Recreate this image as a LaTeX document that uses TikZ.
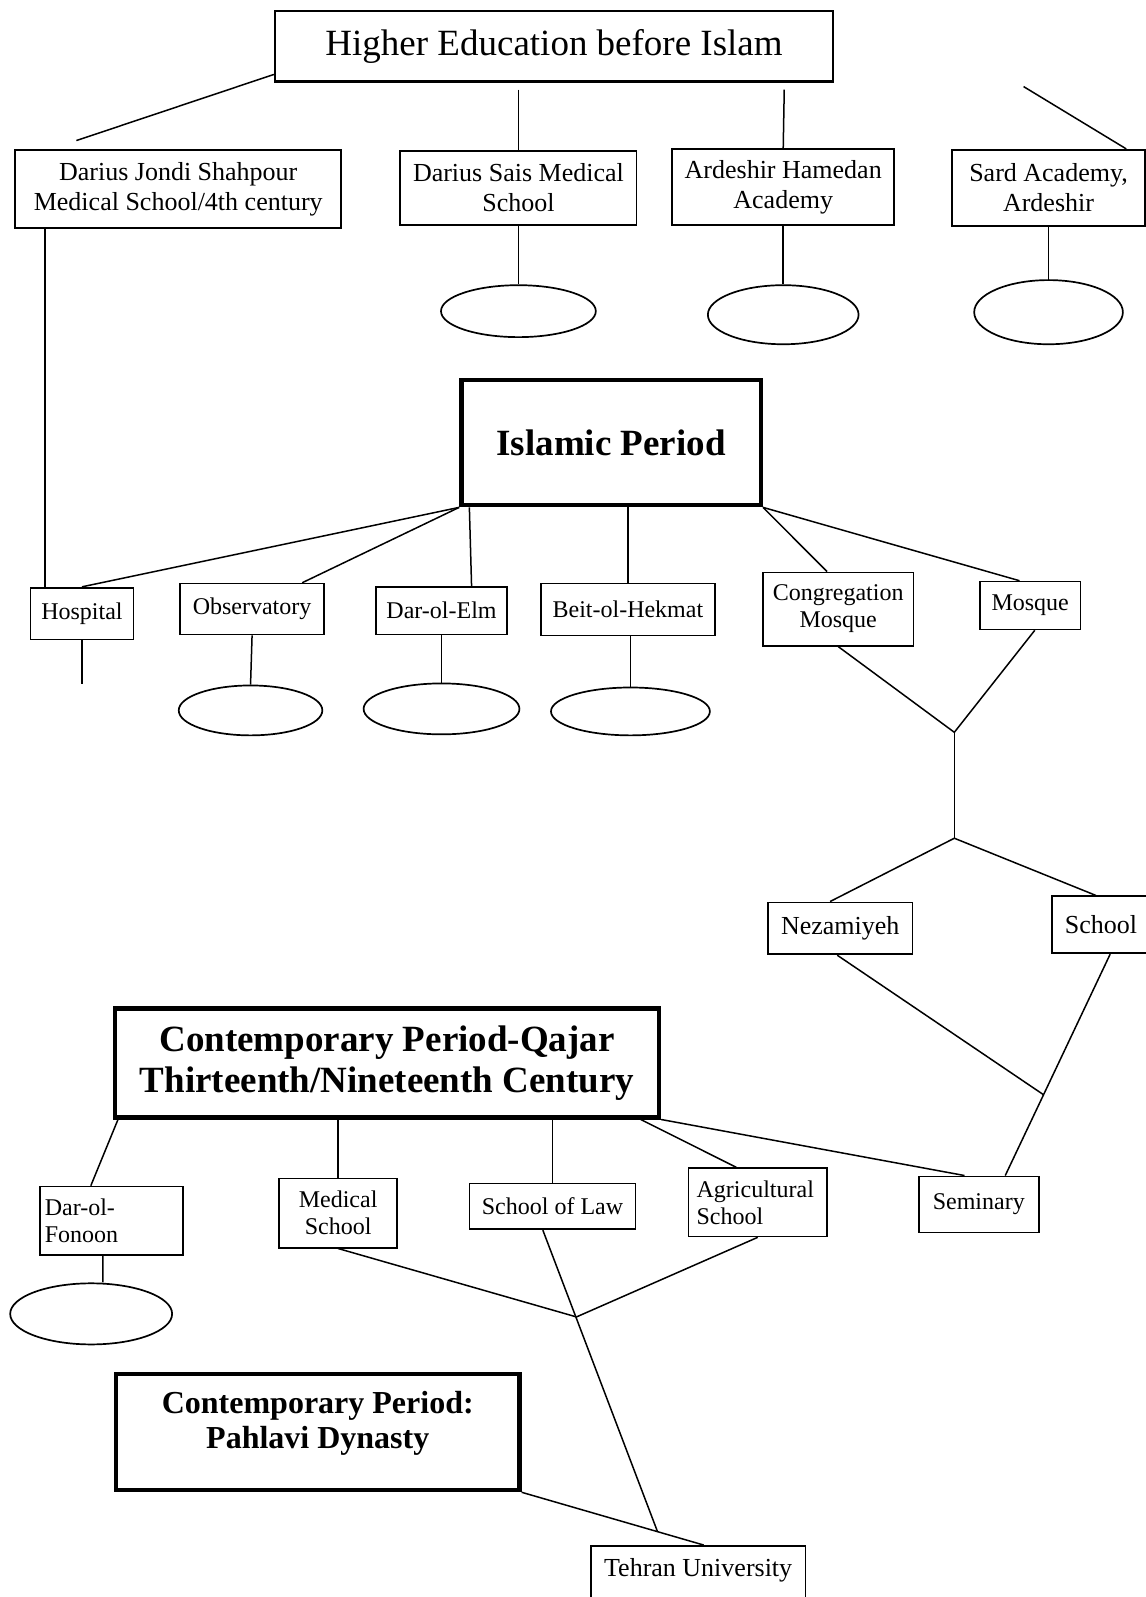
\documentclass[tikz,border=0pt]{standalone}
\usepackage{fontspec}
\setmainfont{Liberation Serif}
\usetikzlibrary{calc,shapes.geometric}
\newcommand{\pu}{0.5093pt}
\tikzset{every picture/.style={line width=0.75pt},
  rbox/.style={draw, line width=0.85pt, inner sep=0pt, align=center, font=\fontsize{12}{13.5}\selectfont},
  tbox/.style={rbox, font=\fontsize{13}{15}\selectfont},
  pbox/.style={draw, line width=2.2pt, inner sep=0pt, align=center, font=\fontsize{18.5}{20.4}\selectfont\bfseries},
  oval/.style={draw, ellipse, inner sep=0pt, line width=0.85pt},
  wh/.style 2 args={minimum width=#1*\pu, minimum height=#2*\pu}}

\begin{document}
\begin{tikzpicture}[x=0.5093pt,y=0.5093pt,yscale=-1,xscale=1]
\useasboundingbox (0,0) rectangle (1125,1568);

% Text Node
\node[rbox, line width=1.1pt, wh={548}{69}, font=\fontsize{18.5}{22}\selectfont] (hedu) at (544,45.5) {Higher Education before Islam};
% Text Node
\node[tbox, wh={320}{77}] (jondi) at (175,185.5) {Darius Jondi Shahpour\\Medical School/4th century};
% Text Node
\node[tbox, wh={232}{73}] (sais) at (509,184.5) {Darius Sais Medical\\School};
% Text Node
\node[tbox, wh={218}{75}] (ham) at (769,183.5) {Ardeshir Hamedan\\Academy};
% Text Node
\node[tbox, wh={189}{75}] (sard) at (1029.5,184.5) {Sard Academy,\\Ardeshir};
%Shape: Ellipse
\node[oval, wh={152}{51}] (esais) at (509,305.5) {};
%Shape: Ellipse
\node[oval, wh={148}{58}] (eham) at (769,309) {};
%Shape: Ellipse
\node[oval, wh={146}{63}] (esard) at (1029.5,306.5) {};

\coordinate (cjondi) at (75,138);
\coordinate (csais) at (509,88);
\coordinate (cham) at (770,88);
\coordinate (csard) at (1005,85);

%Straight Lines
\draw ($(hedu.south west)+(0,-8)$) -- (cjondi);
\draw (csais) -- (sais.north);
\draw (cham) -- (ham.north);
\draw (csard) -- ($(sard.north)!0.8!(sard.north east)$);
\draw (sais.south) -- (esais.north);
\draw (ham.south) -- (eham.north);
\draw (sard.south) -- (esard.north);

% Text Node
\node[pbox, wh={294}{123}] (isl) at (600,434.5) {Islamic Period};
% Text Node
\node[rbox, wh={101}{51}] (hosp) at (80.5,602.5) {Hospital};
% Text Node
\node[rbox, wh={141}{50}] (obs) at (247.5,598) {Observatory};
% Text Node
\node[rbox, wh={129}{47}] (elm) at (433.5,599.5) {Dar-ol-Elm};
% Text Node
\node[rbox, wh={171}{51}] (hek) at (616.5,598.5) {Beit-ol-Hekmat};
% Text Node
\node[rbox, wh={148}{72}] (cong) at (823,598) {Congregation\\Mosque};
% Text Node
\node[rbox, wh={99}{47}] (mosq) at (1011.5,594.5) {Mosque};
%Shape: Ellipse
\node[oval, wh={141}{49}] (eobs) at (246,697.5) {};
%Shape: Ellipse
\node[oval, wh={153}{50}] (eelm) at (433.5,696) {};
%Shape: Ellipse
\node[oval, wh={156}{47}] (ehek) at (619,698.5) {};

\coordinate (chosp) at (80.5,672);

%Straight Lines
\draw ($(jondi.south west)+(30,0)$) -- ($(hosp.north west)+(15,0)$);
\draw (isl.south west) -- (hosp.north);
\draw (isl.south west) -- ($(obs.north)!0.69!(obs.north east)$);
\draw ($(isl.south west)+(10,0)$) -- ($(elm.north)+(29.5,0)$);
\draw (isl.south -| hek.north) -- (hek.north);
\draw (isl.south east) -- ($(cong.north)+(-11,0)$);
\draw (isl.south east) -- ($(mosq.north)+(-10.5,0)$);
\draw (hosp.south) -- (chosp);
\draw (obs.south) -- (eobs.north);
\draw (elm.south) -- (eelm.north);
\draw (ehek.north |- hek.south) -- (ehek.north);

% Text Node
\node[tbox, wh={142}{51}] (nez) at (825,911.5) {Nezamiyeh};
% Text Node
\node[tbox, wh={96}{56}] (sch) at (1081,908) {School};
% Text Node
\node[rbox, wh={118}{55}] (sem) at (961,1182.5) {Seminary};

\coordinate (jn1) at (937,719);
\coordinate (jn2) at (937,823);
\coordinate (schb) at ($(sch.south)+(9,0)$);
\coordinate (semt) at ($(sem.north)+(26,0)$);
\coordinate (jn3) at ($(schb)!0.635!(semt)$);

%Straight Lines
\draw (cong.south) -- (jn1);
\draw ($(mosq.south)+(4.5,0)$) -- (jn1);
\draw (jn1) -- (jn2);
\draw (jn2) -- ($(nez.north)+(-10,0)$);
\draw (jn2) -- ($(sch.north)+(-5,0)$);
\draw ($(nez.south)+(-3,0)$) -- (jn3);
\draw (schb) -- (semt);

% Text Node
\node[pbox, wh={534}{107}] (qaj) at (380,1043.5) {Contemporary Period-Qajar\\Thirteenth/Nineteenth Century};
% Text Node
\node[rbox, wh={141}{67}, align=left, inner xsep=5*\pu, text width=131*\pu] (fon) at (109.5,1198.5) {Dar-ol-\\Fonoon};
% Text Node
\node[rbox, wh={116}{68}] (med) at (332,1191) {Medical\\School};
% Text Node
\node[rbox, wh={163}{45}] (law) at (542.5,1184.5) {School of Law};
% Text Node
\node[rbox, wh={136}{67}, align=left, inner xsep=8*\pu, text width=120*\pu] (agr) at (744,1180.5) {Agricultural\\School};
%Shape: Ellipse
\node[oval, wh={159}{60}] (efon) at (89.5,1290) {};

%Straight Lines
\draw ($(qaj.south west)+(5,0)$) -- ($(fon.north west)+(51,0)$);
\draw (qaj.south -| med.north) -- (med.north);
\draw (qaj.south -| law.north) -- (law.north);
\draw ($(qaj.south east)+(-20,0)$) -- ($(agr.north)+(-21,0)$);
\draw (qaj.south east) -- ($(sem.north)+(-14,0)$);
\draw ($(fon.south)+(-8.5,0)$) -- ($(efon.north)+(11.5,0)$);

% Text Node
\node[pbox, wh={396}{114}, font=\fontsize{16}{17.8}\selectfont\bfseries, text depth=12pt] (pah) at (312,1406) {Contemporary Period:\\Pahlavi Dynasty};
% Text Node
\node[tbox, anchor=north, minimum width=211*\pu, inner ysep=6.5pt, text height=9pt, text depth=22pt] (teh) at (685.5,1517) {Tehran University};

\coordinate (jn4) at (566,1293);
\coordinate (teht) at ($(teh.north)+(5.5,0)$);
\coordinate (jn5) at ($(pah.south east)!0.746!(teht)$);

%Straight Lines
\draw (med.south) -- (jn4);
\draw (agr.south) -- (jn4);
\draw ($(law.south)+(-9.5,0)$) -- (jn5);
\draw (pah.south east) -- (teht);

\end{tikzpicture}
\end{document}
